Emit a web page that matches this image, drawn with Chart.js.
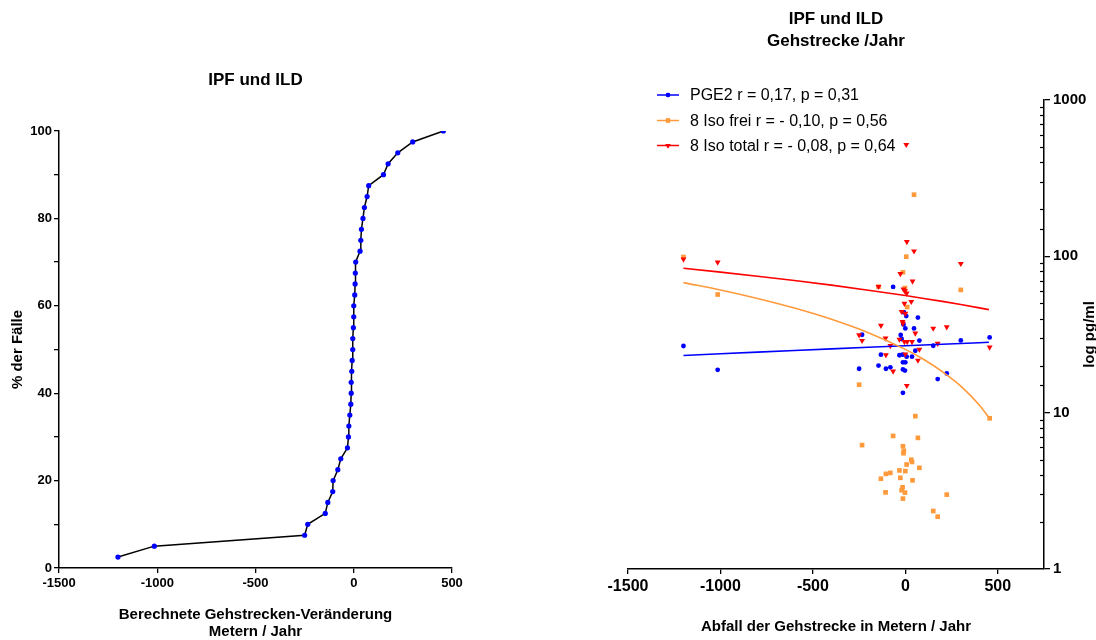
<!DOCTYPE html>
<html>
<head>
<meta charset="utf-8">
<script src="https://cdn.jsdelivr.net/npm/chart.js@4"></script>
<style>
  body { margin: 0; background: #fff; }
  #wrap { position: relative; width: 1096px; height: 640px; }
  #left { position: absolute; left: 0; top: 0; }
  #right { position: absolute; left: 540px; top: 0; }
</style>
</head>
<body>
<div id="wrap">
  <canvas id="left" width="480" height="640"></canvas>
  <canvas id="right" width="556" height="640"></canvas>
</div>
<script>
// left: cumulative distribution of walking distance change
var cumX = [-1200, -1015, -250, -234, -145, -132, -107, -105, -81, -66,
            -32, -27, -25, -20, -15, -13, -13, -10, -8, -5,
            -5, -2, 0, 0, 5, 7, 8, 10, 32, 36,
            39, 47, 54, 68, 76, 151, 175, 224, 300, 456];
var cumPct = [2.5, 5, 7.5, 10, 12.5, 15, 17.5, 20, 22.5, 25,
              27.5, 30, 32.5, 35, 37.5, 40, 42.5, 45, 47.5, 50,
              52.5, 55, 57.5, 60, 62.5, 65, 67.5, 70, 72.5, 75,
              77.5, 80, 82.5, 85, 87.5, 90, 92.5, 95, 97.5, 100];

// right: scatter (x = Abfall m/Jahr, y = pg/ml)
var pgeX = [-1200, -1015, -234, -250, -66, 175, 224, 300, 456, 151,
            68, -8, 5, -10, 0, 47, -25, -20, 76, -132,
            -32, -15, 7, 36, 54, -145, -105, -81, -13, 0,
            -13, -2, -13];
var pgeY = [26.7, 18.8, 31.5, 19.1, 63.7, 16.4, 17.8, 29.0, 30.3, 26.8,
            40.6, 43.9, 41.5, 36.7, 34.6, 34.6, 31.4, 29.6, 28.9, 23.5,
            23.3, 23.5, 22.8, 22.8, 24.9, 20.0, 19.1, 19.5, 21.0, 21.0,
            18.9, 18.6, 13.4];

var freiX = [-1200, -1015, -250, 300, 5, -13, 54, 456, 47, -145,
             10, -2, -66, 68, -234, -13, -8, -10, 32, 36,
             7, 76, -32, 0, -81, -105, -132, -27, 39, -15,
             -20, -2, -107, -13, 224, 151, 175];
var freiY = [99, 57, 15.1, 61, 99.5, 79, 9.5, 9.2, 248, 64,
             47.4, 62.7, 7.1, 6.9, 6.2, 6.1, 5.7, 5.5, 5.0, 4.84,
             4.66, 4.44, 4.27, 4.23, 4.12, 4.06, 3.78, 3.83, 3.69, 3.33,
             3.19, 3.08, 3.09, 2.82, 2.99, 2.35, 2.16];

var totalX = [-1200, -1015, 8, 47, -27, 39, -145, 300, 456, -132,
              -250, -234, 151, 224, -107, -66, 8, 68, 76, 175,
              -105, -10, -2, -5, 32, -20, 0, -15, -13, 54,
              -32, -5, 10, 36, -81, 0, 7, 5];
var totalY = [95.7, 91.6, 124, 108, 77.4, 69.3, 64, 89.8, 26.2, 36.1,
              31.4, 28.9, 34.6, 35.3, 29.9, 18.4, 14.9, 21.6, 25.4, 27.7,
              23.4, 61.6, 60, 49.9, 51.3, 44.3, 43.1, 38.2, 37.2, 32.2,
              29.4, 28.4, 28.4, 28.4, 26.8, 23.7, 58, 518];

// regression lines
var fitX = [-1200, -1000, -800, -600, -400, -200, 0, 100, 200, 300, 400, 452];
var pgeFit = [23.2, 23.8, 24.4, 25.0, 25.6, 26.2, 26.8, 27.1, 27.4, 27.7, 28.0, 28.2];
var freiFit = [67.9, 60.9, 53.8, 46.7, 39.6, 32.5, 25.4, 21.9, 18.3, 14.8, 11.2, 9.3];
var totalFit = [83.9, 79.3, 74.6, 70.0, 65.4, 60.7, 56.1, 53.8, 51.5, 49.2, 46.8, 45.6];

var rightXTicks = [-1500, -1000, -500, 0, 500];

var legendLabels = ["PGE2 r = 0,17, p = 0,31",
                    "8 Iso frei r = - 0,10, p = 0,56",
                    "8 Iso total r = - 0,08, p = 0,64"];

var FONT = 'Arial, "Liberation Sans", sans-serif';
var BLUE = "#0000ff", ORANGE = "#ff9a3c", RED = "#ff0000";

function pts(xs, ys) {
  var out = [];
  for (var i = 0; i < xs.length; i++) out.push({x: xs[i], y: ys[i]});
  return out;
}
function plain(v) { return String(v); }
function isDecade(v) {
  var l = Math.log10(v);
  return Math.abs(l - Math.round(l)) < 1e-9;
}

Chart.defaults.font.family = FONT;
Chart.defaults.color = "#000";

// ---------- left chart ----------
new Chart(document.getElementById("left"), {
  type: "scatter",
  data: {
    datasets: [{
      data: pts(cumX, cumPct),
      showLine: true,
      borderColor: "#000",
      borderWidth: 1.5,
      pointRadius: 2.6,
      pointBackgroundColor: BLUE,
      pointBorderColor: BLUE,
      pointBorderWidth: 0
    }]
  },
  options: {
    responsive: false,
    animation: false,
    events: [],
    layout: { padding: { left: 0, right: 28, top: 0, bottom: 0 } },
    plugins: {
      legend: { display: false },
      tooltip: { enabled: false },
      title: {
        display: true,
        text: "IPF und ILD",
        fullSize: false,
        font: { size: 17, weight: "bold", lineHeight: 1.2 },
        color: "#000",
        padding: { top: 70, bottom: 40.6 }
      }
    },
    scales: {
      x: {
        type: "linear",
        min: -1500, max: 500,
        ticks: { stepSize: 500, autoSkip: false, font: { size: 13, weight: "bold" }, padding: 3, maxRotation: 0, callback: plain },
        grid: { drawOnChartArea: false, color: "#000", tickLength: 5, lineWidth: 1.3 },
        border: { color: "#000", width: 1.5 },
        title: {
          display: true,
          text: ["Berechnete Gehstrecken-Veränderung", "Metern / Jahr"],
          font: { size: 15, weight: "bold", lineHeight: 1.13 },
          padding: { top: 0, bottom: 0 }
        },
        afterFit: function(s) { s.height = 72; s.paddingLeft = 0; s.paddingRight = 0; }
      },
      y: {
        type: "linear",
        min: 0, max: 100,
        ticks: {
          stepSize: 10, autoSkip: false, padding: 2,
          font: { size: 13, weight: "bold" },
          callback: function(v) { return v % 20 === 0 ? String(v) : ""; }
        },
        grid: {
          drawOnChartArea: false, color: "#000", tickLength: 5, lineWidth: 1.3
        },
        border: { color: "#000", width: 1.5 },
        title: {
          display: true,
          text: "% der Fälle",
          font: { size: 15, weight: "bold", lineHeight: 1.2 },
          padding: { top: 9, bottom: 0 }
        },
        afterFit: function(s) { s.width = 59; s.paddingTop = 0; s.paddingBottom = 0; }
      }
    }
  }
});

// ---------- right chart ----------
var rightExtras = {
  id: "rightExtras",
  afterDraw: function(chart) {
    var ctx = chart.ctx;
    var ca = chart.chartArea;
    var cols = [BLUE, ORANGE, RED];
    var shapes = ["circle", "rect", "triangle"];
    var rows = [95, 120.5, 145.5];
    ctx.save();
    // minor ticks of the log axis point inwards
    var ys = chart.scales.y;
    ctx.strokeStyle = "#000";
    ctx.lineWidth = 1.2;
    ys.ticks.forEach(function(t) {
      if (isDecade(t.value)) return;
      var py = Math.round(ys.getPixelForValue(t.value)) + 0.5;
      ctx.beginPath();
      ctx.moveTo(ca.right - 4, py);
      ctx.lineTo(ca.right, py);
      ctx.stroke();
    });
    // legend
    for (var i = 0; i < 3; i++) {
      var y = rows[i];
      ctx.strokeStyle = cols[i];
      ctx.lineWidth = 1.5;
      ctx.beginPath();
      ctx.moveTo(117, y);
      ctx.lineTo(139, y);
      ctx.stroke();
      ctx.fillStyle = cols[i];
      Chart.helpers.drawPoint(ctx, {
        pointStyle: shapes[i], radius: shapes[i] === "circle" ? 2.2 : 3,
        rotation: shapes[i] === "triangle" ? 180 : 0, borderWidth: 0
      }, 128, y);
      ctx.fill();
      ctx.fillStyle = "#000";
      ctx.font = "16px " + FONT;
      ctx.textAlign = "left";
      ctx.textBaseline = "middle";
      ctx.fillText(legendLabels[i], 150, y + 1);
    }
    // y axis title, reading bottom to top
    ctx.translate(554, (ca.top + ca.bottom) / 2);
    ctx.rotate(-Math.PI / 2);
    ctx.fillStyle = "#000";
    ctx.font = "bold 15px " + FONT;
    ctx.textAlign = "center";
    ctx.textBaseline = "alphabetic";
    ctx.fillText("log pg/ml", 0, 0);
    ctx.restore();
  }
};

new Chart(document.getElementById("right"), {
  type: "scatter",
  data: {
    datasets: [
      { data: pts(fitX, totalFit), showLine: true, borderColor: RED, borderWidth: 1.6, pointRadius: 0, order: 1 },
      { data: pts(fitX, freiFit), showLine: true, borderColor: ORANGE, borderWidth: 1.6, pointRadius: 0, order: 2, cubicInterpolationMode: "monotone" },
      { data: pts(fitX, pgeFit), showLine: true, borderColor: BLUE, borderWidth: 1.6, pointRadius: 0, order: 3 },
      { data: pts(totalX, totalY), pointStyle: "triangle", rotation: 180, pointRadius: 3.4,
        pointBackgroundColor: RED, pointBorderColor: RED, pointBorderWidth: 0, order: 4 },
      { data: pts(freiX, freiY), pointStyle: "rect", pointRadius: 3.3,
        pointBackgroundColor: ORANGE, pointBorderColor: ORANGE, pointBorderWidth: 0, order: 5 },
      { data: pts(pgeX, pgeY), pointStyle: "circle", pointRadius: 2.4,
        pointBackgroundColor: BLUE, pointBorderColor: BLUE, pointBorderWidth: 0, order: 6 }
    ]
  },
  options: {
    responsive: false,
    animation: false,
    events: [],
    layout: { padding: { left: 88, right: 0, top: 0, bottom: 0 } },
    plugins: {
      legend: { display: false },
      tooltip: { enabled: false },
      title: {
        display: true,
        text: ["IPF und ILD", "Gehstrecke /Jahr"],
        fullSize: false,
        font: { size: 17, weight: "bold", lineHeight: 1.25 },
        color: "#000",
        padding: { top: 9, bottom: 48.5 }
      }
    },
    scales: {
      x: {
        type: "linear",
        min: -1500, max: 750,
        afterBuildTicks: function(s) {
          s.ticks = rightXTicks.map(function(v) { return { value: v }; });
        },
        ticks: {
          autoSkip: false,
          font: { size: 16, weight: "bold" }, padding: 3, maxRotation: 0, callback: plain
        },
        grid: { drawOnChartArea: false, color: "#000", tickLength: 5, lineWidth: 1.3 },
        border: { color: "#000", width: 1.5 },
        title: {
          display: true,
          text: "Abfall der Gehstrecke in Metern / Jahr",
          font: { size: 15, weight: "bold", lineHeight: 1.2 },
          padding: { top: 0, bottom: 4 }
        },
        afterFit: function(s) { s.height = 71; s.paddingLeft = 0; s.paddingRight = 0; }
      },
      y: {
        type: "logarithmic",
        position: "right",
        min: 1, max: 1000,
        ticks: {
          autoSkip: false, padding: 3,
          font: { size: 15, weight: "bold" },
          callback: function(v) { return isDecade(v) ? String(v) : ""; }
        },
        grid: {
          drawOnChartArea: false, tickLength: 6, lineWidth: 1.3,
          tickColor: function(c) { return c.tick && isDecade(c.tick.value) ? "#000" : "rgba(0,0,0,0)"; }
        },
        border: { color: "#000", width: 1.5 },
        afterFit: function(s) { s.width = 52; s.paddingTop = 0; s.paddingBottom = 0; }
      }
    }
  },
  plugins: [rightExtras]
});
</script>
</body>
</html>
